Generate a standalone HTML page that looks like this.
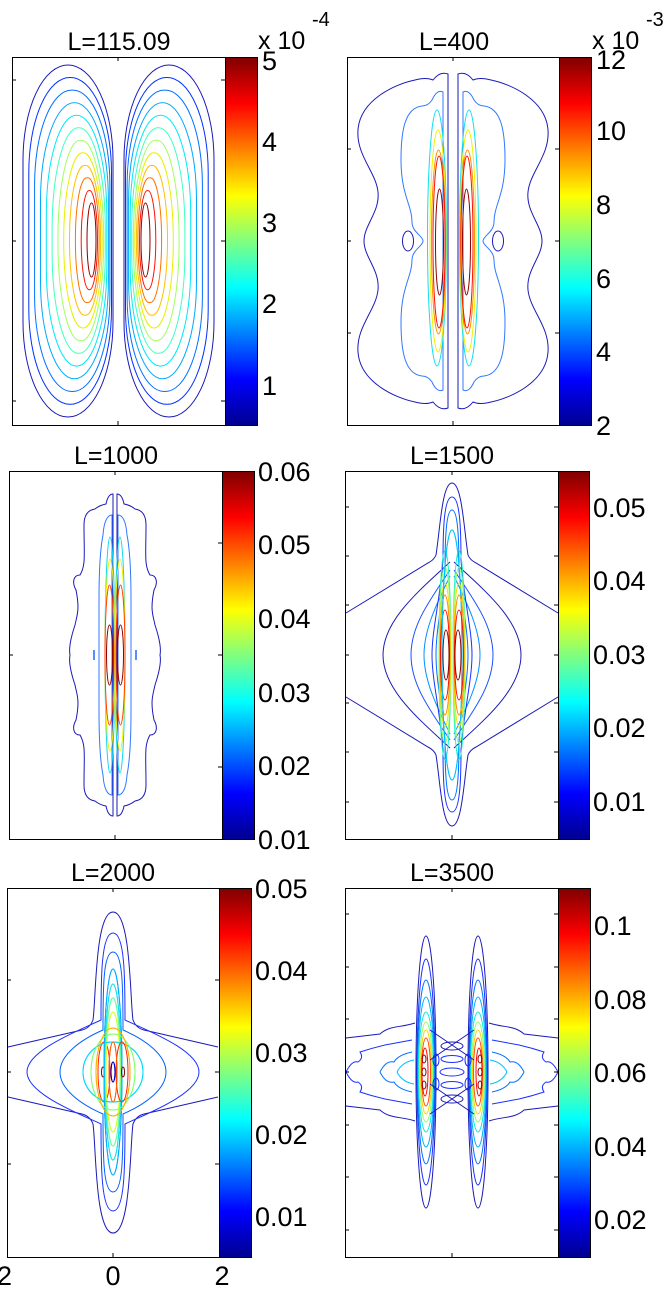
<!DOCTYPE html>
<html><head><meta charset="utf-8"><style>
html,body{margin:0;padding:0;background:#fff}
svg{display:block}
text{font-family:"Liberation Sans",sans-serif;fill:#000}
</style></head><body>
<svg width="669" height="1311" viewBox="0 0 669 1311" xmlns="http://www.w3.org/2000/svg">
<defs>
<linearGradient id="jet" x1="0" y1="1" x2="0" y2="0">
<stop offset="0" stop-color="#00008f"/><stop offset="0.125" stop-color="#0000ff"/><stop offset="0.375" stop-color="#00ffff"/><stop offset="0.625" stop-color="#ffff00"/><stop offset="0.875" stop-color="#ff0000"/><stop offset="1" stop-color="#800000"/>
</linearGradient>
</defs>
<g fill="none" stroke-width="1">
<!-- Panel 1 -->
<g id="p1l">
<rect x="23" y="65" width="90" height="352" rx="45" ry="95" stroke="#1a1ab8"/>
<rect x="28.8" y="77.5" width="82.7" height="326.8" rx="41" ry="95" stroke="#0030ff"/>
<rect x="34.6" y="90.1" width="75.3" height="301.4" rx="37" ry="95" stroke="#0070ff"/>
<rect x="40.5" y="102.6" width="67.9" height="276.2" rx="34" ry="98" stroke="#00a8ff"/>
<rect x="46.3" y="115.2" width="60.5" height="250.9" rx="30" ry="100" stroke="#00e8f8"/>
<rect x="52.1" y="127.7" width="53.2" height="225.6" rx="26" ry="102" stroke="#40ffbf"/>
<rect x="57.9" y="140.3" width="45.8" height="200.4" rx="22" ry="100" stroke="#a0ff60"/>
<rect x="63.7" y="152.8" width="38.5" height="175.2" rx="19" ry="87" stroke="#e8f000"/>
<rect x="69.5" y="165.4" width="31.1" height="149.8" rx="15" ry="75" stroke="#ffc000"/>
<rect x="75.4" y="177.9" width="23.7" height="124.6" rx="11" ry="62" stroke="#ff7000"/>
<rect x="81.2" y="190.5" width="16.3" height="99.2" rx="8" ry="50" stroke="#ff1000"/>
<rect x="87" y="203" width="9" height="74" rx="4.5" ry="37" stroke="#900000"/>
</g>
<use href="#p1l" transform="translate(237,0) scale(-1,1)"/>

<!-- Panel 2 -->
<g id="p2l">
<path d="M448,74 Q440,71 433,80 Q426,77 415,80 C395,84 360,100 358,130 C356,155 376,172 378,192 C380,212 364,225 364,241 C364,257 380,270 378,290 C376,310 356,327 358,352 C360,382 395,398 415,402 Q426,405 433,402 Q440,411 448,408 Z" stroke="#1a1ab8"/>
<path d="M443,92 Q437,89 432,100 Q428,106 422,106 C405,108 401,130 401,160 C401,195 412,205 412,222 C412,232 423,236 423,241 C423,246 412,250 412,260 C412,277 401,287 401,322 C401,352 405,374 422,376 Q428,376 432,382 Q437,393 443,390 Z" stroke="#3078ff"/>
<ellipse cx="408" cy="241" rx="5.5" ry="10" stroke="#1a1ab8"/>
<ellipse cx="437" cy="238" rx="9.5" ry="128" stroke="#10e0f0"/>
<ellipse cx="438" cy="241" rx="8" ry="111" stroke="#f0f000"/>
<ellipse cx="438.5" cy="242" rx="7" ry="92" stroke="#ff9000"/>
<ellipse cx="439" cy="242" rx="6" ry="86" stroke="#ff1000"/>
<ellipse cx="439.5" cy="242" rx="4" ry="53" stroke="#900000"/>
</g>
<use href="#p2l" transform="translate(906,0) scale(-1,1)"/>

<!-- Panel 3 -->
<g id="p3l">
<path d="M113,494 Q108,494 106,504 Q100,505 95,509 C88,510 84,515 84,525 C84,555 86,565 80,575 C73,575 72,583 76,590 C80,610 77,615 75,625 C70,640 69,650 70,655 C69,660 70,670 75,685 C77,695 80,700 76,720 C72,727 73,735 80,735 C86,745 84,755 84,785 C84,795 88,800 95,801 Q100,805 106,806 Q108,816 113,816 Z" stroke="#1a1ab8"/>
<path d="M112,515 C108,515 104,520 103,535 C101,545 99,560 99,600 L99,710 C99,750 101,765 103,775 C104,790 108,795 112,795 Z" stroke="#3078ff"/>
<ellipse cx="110" cy="655" rx="5" ry="118" stroke="#10d8f0"/>
<ellipse cx="110" cy="655" rx="5" ry="96" stroke="#f0f000"/>
<ellipse cx="109.5" cy="655" rx="4.5" ry="70" stroke="#ff4000"/>
<ellipse cx="109.5" cy="655" rx="3" ry="30" stroke="#900000"/>
<line x1="94" y1="650" x2="94" y2="660" stroke="#0050ff" stroke-width="1.3"/>
</g>
<use href="#p3l" transform="translate(230,0) scale(-1,1)"/>

<!-- Panel 4 -->
<g id="p4l">
<path d="M346,613 L428,563 Q434,560 436,555 C440,530 442,483 452,483" stroke="#1a1ab8"/>
<path d="M346,697 L428,747 Q434,750 436,755 C440,780 442,826 452,826" stroke="#1a1ab8"/>
<path d="M450,562 C420,590 383,620 383,655 C383,690 420,720 450,748" stroke="#1a1ab8"/>
<path d="M450,570 C430,600 411,625 411,655 C411,685 430,710 450,740" stroke="#1a50ff"/>
<path d="M450,576 C436,605 424,630 424,655 C424,680 436,705 450,734" stroke="#0090ff"/>
<path d="M452,497 C444,497 443,530 443,560 C440,600 432,630 432,655 C432,680 440,710 443,750 C443,780 444,812 452,812" stroke="#1a30ff"/>
<path d="M452,510 C446,510 445,540 445,570 C442,605 436,630 436,655 C436,680 442,705 445,740 C445,770 446,800 452,800" stroke="#0070ff"/>
<ellipse cx="452" cy="655" rx="10" ry="125" stroke="#00c0ff"/>
<ellipse cx="445" cy="655" rx="6" ry="105" stroke="#20f0d0"/>
<ellipse cx="445" cy="655" rx="6" ry="88" stroke="#90ff60"/>
<ellipse cx="445" cy="655" rx="5.5" ry="72" stroke="#f0e000"/>
<ellipse cx="445" cy="655" rx="5" ry="60" stroke="#ff9000"/>
<ellipse cx="445" cy="655" rx="4.5" ry="45" stroke="#ff1000"/>
<ellipse cx="446" cy="655" rx="3" ry="25" stroke="#900000"/>
</g>
<use href="#p4l" transform="translate(904,0) scale(-1,1)"/>

<!-- Panel 5 -->
<g id="p5l">
<path d="M8,1047 L82,1030 Q90,1028 93,1020 C96,1000 95,912 113,912" stroke="#1a1ab8"/>
<path d="M8,1097 L82,1114 Q90,1116 93,1124 C96,1144 95,1233 113,1233" stroke="#1a1ab8"/>
<path d="M113,933 C101,933 101,980 101,1020 C80,1030 27,1050 27,1072 C27,1094 80,1114 101,1124 C101,1164 101,1211 113,1211" stroke="#1a30ff"/>
<path d="M113,952 C103,952 103,990 103,1030 C80,1040 60,1055 60,1072 C60,1089 80,1104 103,1114 C103,1154 103,1192 113,1192" stroke="#0060ff"/>
<ellipse cx="113" cy="1072" rx="9" ry="103" stroke="#00a8ff"/>
<ellipse cx="113" cy="1072" rx="8" ry="88" stroke="#10e0f0"/>
<ellipse cx="113" cy="1072" rx="7.5" ry="74" stroke="#60ffa0"/>
<ellipse cx="113" cy="1072" rx="7" ry="60" stroke="#d0ff30"/>
<ellipse cx="113" cy="1072" rx="30" ry="30" stroke="#00d8f8"/>
<ellipse cx="113" cy="1072" rx="22" ry="38" stroke="#80ff70"/>
<ellipse cx="113" cy="1072" rx="17" ry="44" stroke="#ffb000"/>
<ellipse cx="104" cy="1072" rx="6" ry="30" stroke="#ff2000"/>
<ellipse cx="113" cy="1072" rx="4" ry="30" stroke="#ff6000"/>
<ellipse cx="103" cy="1072" rx="1.5" ry="5" stroke="#900000"/>
<ellipse cx="113" cy="1072" rx="2" ry="10" stroke="#0000c0"/>
</g>
<use href="#p5l" transform="translate(226,0) scale(-1,1)"/>

<!-- Panel 6 -->
<g id="p6l">
<path d="M346,1038 L380,1034 C390,1025 400,1028 415,1023 M346,1106 L380,1110 C390,1119 400,1116 415,1121" stroke="#1a1ab8"/>
<path d="M346,1072 Q352,1060 358,1062 Q364,1058 360,1052 Q372,1048 385,1045 L412,1040 M346,1072 Q352,1084 358,1082 Q364,1086 360,1092 Q372,1096 385,1099 L412,1104" stroke="#1a30ff"/>
<path d="M380,1072 Q386,1060 394,1062 Q398,1055 412,1052 M380,1072 Q386,1084 394,1082 Q398,1089 412,1092" stroke="#0070ff"/>
<path d="M397,1072 Q402,1062 414,1060 M397,1072 Q402,1082 414,1084" stroke="#00c0ff"/>
<ellipse cx="426" cy="1072" rx="10" ry="136" stroke="#1a1ab8"/>
<ellipse cx="426" cy="1072" rx="9" ry="113" stroke="#1a30ff"/>
<ellipse cx="426" cy="1072" rx="8.5" ry="92" stroke="#0070ff"/>
<ellipse cx="426" cy="1072" rx="8" ry="75" stroke="#00b0ff"/>
<ellipse cx="426" cy="1072" rx="7.5" ry="60" stroke="#10e8e0"/>
<ellipse cx="426" cy="1072" rx="6.5" ry="50" stroke="#90ff60"/>
<ellipse cx="426" cy="1072" rx="5.5" ry="42" stroke="#ffd000"/>
<ellipse cx="426" cy="1072" rx="4.5" ry="34" stroke="#ff5000"/>
<ellipse cx="425" cy="1072" rx="3" ry="24" stroke="#ff0000"/>
<ellipse cx="424" cy="1059" rx="2" ry="4" stroke="#900000"/>
<ellipse cx="424" cy="1072" rx="2" ry="4" stroke="#900000"/>
<ellipse cx="424" cy="1085" rx="2" ry="4" stroke="#900000"/>
<ellipse cx="436" cy="1060" rx="3" ry="6" stroke="#1a30ff"/>
<ellipse cx="436" cy="1084" rx="3" ry="6" stroke="#1a30ff"/>
</g>
<use href="#p6l" transform="translate(904,0) scale(-1,1)"/>
<ellipse cx="452" cy="1046" rx="11" ry="4" stroke="#1a1ab8"/>
<ellipse cx="452" cy="1059" rx="11" ry="3.5" stroke="#1a30ff"/>
<ellipse cx="452" cy="1072" rx="12" ry="4" stroke="#1a30ff"/>
<ellipse cx="452" cy="1085" rx="11" ry="3.5" stroke="#1a30ff"/>
<ellipse cx="452" cy="1099" rx="11" ry="4" stroke="#1a1ab8"/>
<path d="M430,1030 L474,1060 M474,1030 L430,1060 M430,1084 L474,1114 M474,1084 L430,1114" stroke="#1a1ab8"/>
</g>

<!-- Axes boxes -->
<g fill="none" stroke="#000" stroke-width="1">
<rect x="12.5" y="57.5" width="213" height="368"/>
<rect x="347.5" y="57.5" width="212" height="368"/>
<rect x="9.5" y="471.5" width="213" height="368"/>
<rect x="345.5" y="471.5" width="213" height="368"/>
<rect x="7.5" y="888.5" width="212" height="369"/>
<rect x="345.5" y="888.5" width="213" height="369"/>
<path d="M12,80h4M12,241h4M12,401h4M225,80h-4M225,241h-4M225,401h-4M118,57v4M118,425v-4"/>
<path d="M347,149h4M347,241h4M347,333h4M559,149h-4M559,241h-4M559,333h-4M453,57v4M453,425v-4"/>
<path d="M9,655h4M222,655h-4M222,543h-4M222,767h-4M115,471v4M115,839v-4"/>
<path d="M345,507h4M345,556h4M345,605h4M345,655h4M345,703h4M345,752h4M345,802h4M558,507h-4M558,556h-4M558,605h-4M558,655h-4M558,703h-4M558,752h-4M558,802h-4M452,471v4M452,839v-4"/>
<path d="M7,980h4M7,1072h4M7,1164h4M219,980h-4M219,1072h-4M219,1164h-4M113,888v4M113,1257v-4"/>
<path d="M345,914h4M345,967h4M345,1019h4M345,1072h4M345,1125h4M345,1177h4M345,1230h4M558,914h-4M558,967h-4M558,1019h-4M558,1072h-4M558,1125h-4M558,1177h-4M558,1230h-4M452,888v4M452,1257v-4"/>
</g>

<!-- Colorbars -->
<g stroke="#000" stroke-width="1">
<rect x="225.5" y="57.5" width="32" height="368" fill="url(#jet)"/>
<rect x="559.5" y="57.5" width="32" height="368" fill="url(#jet)"/>
<rect x="222.5" y="471.5" width="32" height="368" fill="url(#jet)"/>
<rect x="558.5" y="471.5" width="31" height="368" fill="url(#jet)"/>
<rect x="219.5" y="888.5" width="32" height="369" fill="url(#jet)"/>
<rect x="558.5" y="888.5" width="32" height="369" fill="url(#jet)"/>
</g>

<!-- Titles -->
<g font-size="25" text-anchor="middle">
<text x="119" y="50">L=115.09</text>
<text x="454" y="50">L=400</text>
<text x="116" y="464">L=1000</text>
<text x="452" y="464">L=1500</text>
<text x="113" y="881">L=2000</text>
<text x="452" y="881">L=3500</text>
</g>
<g font-size="25">
<text x="258" y="49">x 10</text><text x="312" y="26" font-size="20">-4</text>
<text x="592" y="49">x 10</text><text x="646" y="26" font-size="20">-3</text>
</g>
<!-- Colorbar labels -->
<g font-size="27" dominant-baseline="central">
<text x="262" y="61">5</text><text x="262" y="142">4</text><text x="262" y="223">3</text><text x="262" y="304">2</text><text x="262" y="386">1</text>
<text x="596" y="60">12</text><text x="596" y="131">10</text><text x="596" y="205">8</text><text x="596" y="279">6</text><text x="596" y="352">4</text><text x="596" y="426">2</text>
<text x="258" y="472">0.06</text><text x="258" y="545">0.05</text><text x="258" y="619">0.04</text><text x="258" y="693">0.03</text><text x="258" y="766">0.02</text><text x="258" y="840">0.01</text>
<text x="593" y="508">0.05</text><text x="593" y="581">0.04</text><text x="593" y="655">0.03</text><text x="593" y="728">0.02</text><text x="593" y="802">0.01</text>
<text x="255" y="889">0.05</text><text x="255" y="971">0.04</text><text x="255" y="1053">0.03</text><text x="255" y="1135">0.02</text><text x="255" y="1217">0.01</text>
<text x="594" y="926">0.1</text><text x="594" y="1000">0.08</text><text x="594" y="1073">0.06</text><text x="594" y="1147">0.04</text><text x="594" y="1220">0.02</text>
<text x="-12" y="1276">-2</text><text x="113" y="1276" text-anchor="middle">0</text><text x="222" y="1276" text-anchor="middle">2</text>
</g>
</svg>
</body></html>
